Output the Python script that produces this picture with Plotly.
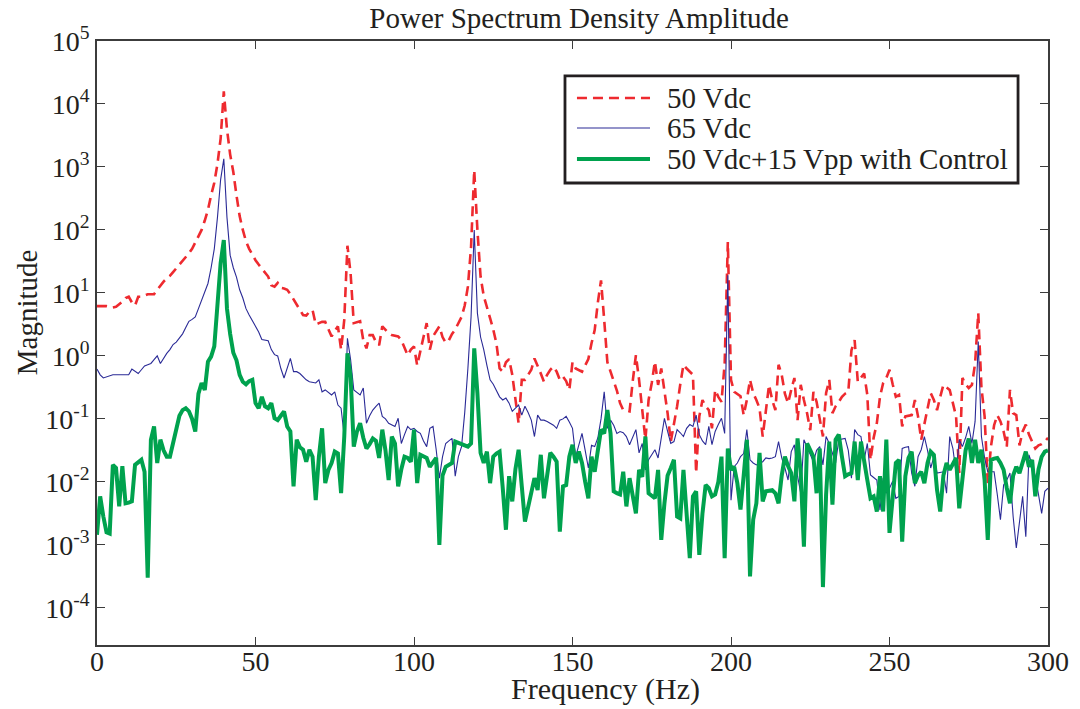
import numpy as np
import plotly.graph_objects as go

# frequency bins (Hz)
freq_hz = list(range(301))

# magnitudes, stored as powers of ten (value = 10 ** exponent)
exp_50vdc = [
    0.79, 0.79, 0.80, 0.79, 0.78, 0.77, 0.78, 0.82, 0.86, 0.92,
    0.94, 0.85, 0.80, 0.94, 0.94, 0.96, 0.98, 0.98, 0.98, 1.05,
    1.12, 1.18, 1.23, 1.27, 1.33, 1.39, 1.45, 1.50, 1.56, 1.63,
    1.70, 1.80, 1.90, 2.00, 2.15, 2.32, 2.55, 2.75, 3.05, 3.45,
    4.20, 3.60, 3.20, 2.92, 2.55, 2.22, 2.00, 1.82, 1.70, 1.60,
    1.52, 1.45, 1.38, 1.32, 1.26, 1.12, 1.10, 1.16, 1.08, 1.07,
    1.05, 0.98, 0.90, 0.83, 0.75, 0.65, 0.64, 0.70, 0.73, 0.50,
    0.52, 0.54, 0.54, 0.42, 0.31, 0.40, 0.47, 0.10, 0.57, 1.75,
    1.31, 0.52, 0.54, 0.55, 0.25, 0.12, 0.33, 0.33, 0.22, 0.17,
    0.47, 0.42, 0.36, 0.33, 0.32, 0.31, 0.25, 0.12, 0.01, 0.10,
    0.15, -0.15, 0.10, 0.30, 0.52, 0.10, 0.31, 0.40, 0.47, 0.30,
    0.21, 0.25, 0.35, 0.42, 0.52, 0.62, 0.80, 1.10, 1.73, 2.95,
    2.00, 1.26, 0.95, 0.79, 0.60, 0.42, 0.20, -0.20, -0.25, -0.10,
    -0.05, -0.30, -0.65, -1.07, -0.38, -0.38, -0.30, -0.22, -0.04, -0.15,
    -0.28, -0.41, -0.30, -0.22, -0.17, -0.25, -0.38, -0.33, -0.40, -0.54,
    -0.10, -0.20, -0.22, -0.25, -0.15, -0.05, 0.20, 0.41, 0.85, 1.20,
    0.57, -0.10, -0.25, -0.40, -0.55, -0.75, -0.86, -0.87, -0.88, -0.40,
    0.01, -0.38, -0.90, -1.33, -0.70, -0.43, -0.09, -0.46, -0.20, -0.55,
    -0.91, -1.36, -1.10, -0.80, -0.45, -0.14, -0.20, -0.25, -0.30, -1.86,
    -0.96, -0.70, -0.80, -0.86, -1.15, -0.54, -0.65, -0.73, -0.12, 1.81,
    -0.38, -0.57, -0.60, -0.64, -0.94, -0.70, -0.38, -0.59, -0.70, -0.83,
    -1.28, -0.88, -0.46, -0.70, -0.86, -0.14, -0.30, -0.60, -0.75, -0.54,
    -0.35, -1.02, -0.46, -0.70, -0.91, -1.18, -0.57, -0.73, -1.00, -1.28,
    -0.59, -0.38, -0.91, -0.80, -0.73, -0.65, -0.60, -0.57, 0.09, 0.25,
    -0.41, -0.35, -0.28, -0.62, -1.65, -1.30, -1.07, -0.65, -0.43, -0.35,
    -0.22, -0.45, -0.65, -0.62, -1.12, -0.96, -0.95, -0.94, -0.70, -0.96,
    -1.33, -1.09, -0.85, -0.59, -0.70, -0.86, -0.65, -0.46, -0.50, -0.54,
    -0.75, -0.96, -1.86, -0.35, -0.45, -0.51, -0.46, -0.12, 0.68, -0.50,
    -0.96, -2.02, -1.44, -1.10, -0.94, -1.04, -1.20, -1.44, -0.54, -0.91,
    -0.94, -1.42, -1.20, -1.09, -1.25, -1.35, -1.47, -1.42, -1.40, -1.36,
    -1.30,
]

exp_65vdc = [
    -0.21, -0.30, -0.35, -0.33, -0.31, -0.30, -0.30, -0.30, -0.30, -0.30,
    -0.30, -0.21, -0.25, -0.28, -0.22, -0.16, -0.14, -0.12, -0.06, 0.00,
    -0.12, -0.03, 0.04, 0.10, 0.18, 0.22, 0.28, 0.35, 0.45, 0.55,
    0.58, 0.62, 0.75, 0.88, 1.00, 1.15, 1.40, 1.70, 2.20, 2.80,
    3.13, 2.20, 1.60, 1.40, 1.25, 1.05, 0.92, 0.75, 0.65, 0.56,
    0.48, 0.38, 0.26, 0.25, 0.24, 0.10, 0.02, 0.00, -0.20, -0.35,
    -0.20, -0.04, -0.25, -0.25, -0.28, -0.33, -0.38, -0.41, -0.42, -0.43,
    -0.38, -0.57, -0.54, -0.58, -0.62, -0.57, -0.78, -0.83, -1.28, 0.28,
    -0.06, -0.54, -0.58, -0.62, -0.51, -1.07, -0.95, -0.86, -0.80, -0.75,
    -0.96, -1.00, -1.07, -1.10, -1.12, -0.99, -1.39, -1.25, -1.12, -1.17,
    -1.15, -1.20, -1.23, -1.35, -1.44, -1.15, -1.12, -1.49, -1.94, -1.60,
    -1.39, -1.35, -1.31, -1.91, -1.60, -1.44, -0.90, -0.20, 0.62, 2.00,
    0.68, 0.30, 0.10, -0.15, -0.38, -0.45, -0.55, -0.65, -0.70, -0.67,
    -0.75, -0.88, -0.83, -0.78, -0.94, -0.80, -0.90, -1.02, -1.28, -0.94,
    -1.02, -1.02, -1.04, -1.07, -1.10, -1.15, -1.02, -1.00, -0.96, -1.05,
    -1.15, -1.60, -1.39, -1.23, -1.50, -1.78, -1.42, -1.44, -1.30, -1.00,
    -0.57, -1.15, -1.02, -1.10, -1.23, -1.20, -1.22, -1.28, -1.41, -1.30,
    -1.17, -1.54, -1.39, -1.81, -1.65, -1.57, -1.49, -1.62, -1.28, -0.99,
    -1.20, -1.39, -1.36, -1.17, -1.22, -1.28, -1.15, -1.09, -1.12, -0.94,
    -1.25, -1.35, -1.41, -1.12, -1.41, -1.20, -1.09, -0.99, -1.23, 1.28,
    -2.29, -1.76, -1.70, -1.60, -1.55, -1.17, -1.65, -1.70, -1.73, -1.70,
    -1.68, -1.62, -1.63, -1.62, -1.60, -1.36, -1.62, -1.78, -1.97, -1.52,
    -1.41, -1.91, -2.18, -1.33, -1.45, -1.54, -1.68, -1.50, -1.44, -1.73,
    -1.28, -1.39, -1.55, -1.70, -1.33, -1.32, -1.31, -1.50, -1.94, -1.17,
    -1.25, -1.28, -1.65, -1.39, -1.89, -1.93, -1.97, -2.45, -1.94, -2.18,
    -2.10, -1.99, -2.26, -2.23, -1.47, -1.45, -1.44, -1.86, -2.07, -1.60,
    -1.49, -1.28, -1.50, -1.78, -1.60, -1.86, -1.85, -1.84, -2.18, -1.28,
    -1.47, -1.86, -1.33, -1.44, -1.30, -1.12, -1.39, -1.04, 0.23, -1.28,
    -1.62, -1.84, -1.84, -1.84, -2.20, -2.60, -2.05, -1.97, -1.86, -2.55,
    -3.05, -2.60, -2.23, -2.87, -1.57, -1.73, -1.91, -2.20, -2.50, -2.15,
    -2.10,
]

exp_50vdc_15vpp = [
    -2.84, -2.23, -2.55, -2.80, -2.82, -1.73, -1.78, -2.39, -1.75, -2.34,
    -2.33, -2.31, -1.73, -1.68, -1.65, -1.84, -3.52, -1.33, -1.12, -1.70,
    -1.33, -1.50, -1.60, -1.60, -1.40, -1.17, -0.95, -0.86, -0.83, -0.88,
    -1.00, -1.20, -0.60, -0.43, -0.54, -0.09, -0.01, 0.15, 0.80, 1.47,
    1.84, 0.75, 0.35, 0.05, -0.07, -0.30, -0.41, -0.45, -0.40, -0.38,
    -0.75, -0.83, -0.65, -0.80, -0.83, -0.75, -0.99, -1.02, -0.95, -0.88,
    -1.12, -1.20, -2.07, -1.33, -1.45, -1.49, -1.68, -1.49, -1.60, -2.29,
    -1.60, -1.15, -2.02, -1.81, -1.70, -1.52, -1.55, -2.18, -1.28, 0.04,
    -0.33, -1.44, -1.20, -1.07, -1.30, -1.47, -1.40, -1.31, -1.35, -1.62,
    -1.17, -1.50, -1.97, -1.28, -1.39, -2.07, -1.80, -1.60, -1.62, -1.68,
    -1.17, -2.02, -1.57, -1.60, -1.62, -1.76, -1.68, -1.62, -3.00, -1.90,
    -1.76, -1.73, -1.70, -1.36, -1.38, -1.39, -1.42, -1.44, -1.39, 0.12,
    -0.59, -1.54, -1.70, -1.52, -2.02, -1.60, -1.55, -1.52, -2.10, -2.76,
    -1.91, -2.31, -1.80, -1.49, -2.07, -2.63, -2.40, -2.18, -1.94, -2.13,
    -1.57, -2.26, -1.90, -1.54, -1.60, -1.68, -2.79, -2.07, -2.05, -1.60,
    -1.41, -1.70, -1.52, -1.70, -2.00, -2.26, -1.60, -1.84, -1.50, -1.17,
    -1.23, -0.86, -1.23, -2.15, -2.18, -2.20, -1.84, -2.39, -1.94, -2.20,
    -2.50, -1.81, -1.92, -1.28, -2.18, -2.22, -2.26, -1.81, -2.92, -2.34,
    -1.90, -1.78, -1.65, -2.55, -2.58, -1.81, -2.50, -3.21, -2.23, -2.15,
    -3.16, -2.50, -2.05, -2.10, -2.23, -2.20, -2.00, -1.60, -3.21, -1.47,
    -1.81, -1.76, -2.02, -2.44, -1.90, -1.33, -3.50, -2.60, -2.34, -1.54,
    -2.31, -2.15, -2.14, -2.13, -2.18, -2.34, -1.90, -1.60, -1.75, -1.86,
    -2.31, -1.31, -1.86, -3.03, -1.39, -1.50, -1.60, -2.18, -1.47, -3.67,
    -2.20, -1.36, -2.36, -1.33, -1.25, -1.60, -1.91, -1.88, -1.86, -1.36,
    -1.97, -1.36, -1.70, -1.97, -2.26, -2.23, -2.47, -1.91, -2.47, -1.33,
    -2.81, -2.23, -1.70, -1.65, -2.95, -1.91, -1.62, -1.52, -2.02, -1.90,
    -1.84, -2.02, -1.70, -1.52, -1.57, -2.13, -2.47, -1.90, -1.70, -1.81,
    -1.70, -1.62, -2.42, -1.97, -1.50, -1.31, -1.70, -1.33, -1.70, -1.49,
    -1.97, -2.92, -1.65, -1.63, -1.62, -1.70, -1.81, -2.10, -2.34, -1.90,
    -1.76, -1.86, -1.70, -1.52, -1.76, -1.65, -2.23, -1.80, -1.60, -1.52,
    -1.50,
]

series_names = ["50 Vdc", "65 Vdc", "50 Vdc+15 Vpp with Control"]
series_colors = ["#ee2a2f", "#2a2a96", "#00a24e"]
series_lines = [
    dict(color=series_colors[0], width=2.6, dash="10px,6px"),
    dict(color=series_colors[1], width=1.1),
    dict(color=series_colors[2], width=4),
]
series_exps = [exp_50vdc, exp_65vdc, exp_50vdc_15vpp]

x_ticks = [0, 50, 100, 150, 200, 250, 300]
y_tick_exps = [-4, -3, -2, -1, 0, 1, 2, 3, 4, 5]

FONT = "Liberation Serif, Times New Roman, serif"
INK = "#231f20"

fig = go.Figure()
for name, exps, line in zip(series_names, series_exps, series_lines):
    fig.add_trace(go.Scatter(
        x=freq_hz, y=10 ** np.array(exps), mode="lines", name=name,
        line=line, showlegend=False,
    ))

axis_common = dict(
    showline=True, linecolor="#3c3c3c", linewidth=1.5, mirror="ticks",
    ticks="inside", ticklen=8, tickcolor="#3c3c3c", tickwidth=1.2,
    showgrid=False, zeroline=False, automargin=False,
    tickfont=dict(family=FONT, size=28, color=INK),
)

fig.update_xaxes(range=[0, 300], tickvals=x_ticks, ticklabelstandoff=-9, **axis_common)
fig.update_yaxes(
    type="log", range=[-4.59, 5],
    tickvals=[10 ** e for e in y_tick_exps],
    ticktext=[f"10<sup>{e}</sup>" for e in y_tick_exps],
    **axis_common,
)

# axis titles placed where the original has them
fig.add_annotation(text="Frequency (Hz)", xref="paper", yref="paper", x=0.535, y=-0.1043,
                   xanchor="center", yanchor="bottom", showarrow=False,
                   font=dict(family=FONT, size=30, color=INK))
fig.add_annotation(text="Magnitude", xref="paper", yref="paper", x=-0.0736, y=0.551,
                   xanchor="center", yanchor="middle", showarrow=False, textangle=-90,
                   font=dict(family=FONT, size=29, color=INK))

# legend box drawn like the MATLAB one (long line samples, tight rows)
leg_x0, leg_x1, leg_y0, leg_y1 = 0.4921, 0.9685, 0.7649, 0.9421
leg_rows = [0.9056, 0.856, 0.8046]
fig.add_shape(type="rect", xref="paper", yref="paper",
              x0=leg_x0, x1=leg_x1, y0=leg_y0, y1=leg_y1,
              line=dict(color=INK, width=2.8), fillcolor="white", layer="above")
for name, line, ry in zip(series_names, series_lines, leg_rows):
    fig.add_shape(type="line", xref="paper", yref="paper",
                  x0=0.5047, x1=0.5815, y0=ry, y1=ry, line=line, layer="above")
    fig.add_annotation(text=name, xref="paper", yref="paper", x=0.5973, y=ry,
                       xanchor="left", yanchor="middle", showarrow=False,
                       font=dict(family=FONT, size=29, color=INK))

fig.update_layout(
    width=1080, height=709,
    margin=dict(l=97, r=32, t=41, b=64, autoexpand=False),
    paper_bgcolor="white", plot_bgcolor="white",
    font=dict(family=FONT, color=INK),
    title=dict(text="Power Spectrum Density Amplitude", x=0.507, xref="paper", xanchor="center",
               y=0.975, yanchor="middle", font=dict(family=FONT, size=29, color=INK)),
    showlegend=False,
)

fig.write_html("out.html", config={"displayModeBar": False},
               post_script="document.body.style.margin='0px';")
